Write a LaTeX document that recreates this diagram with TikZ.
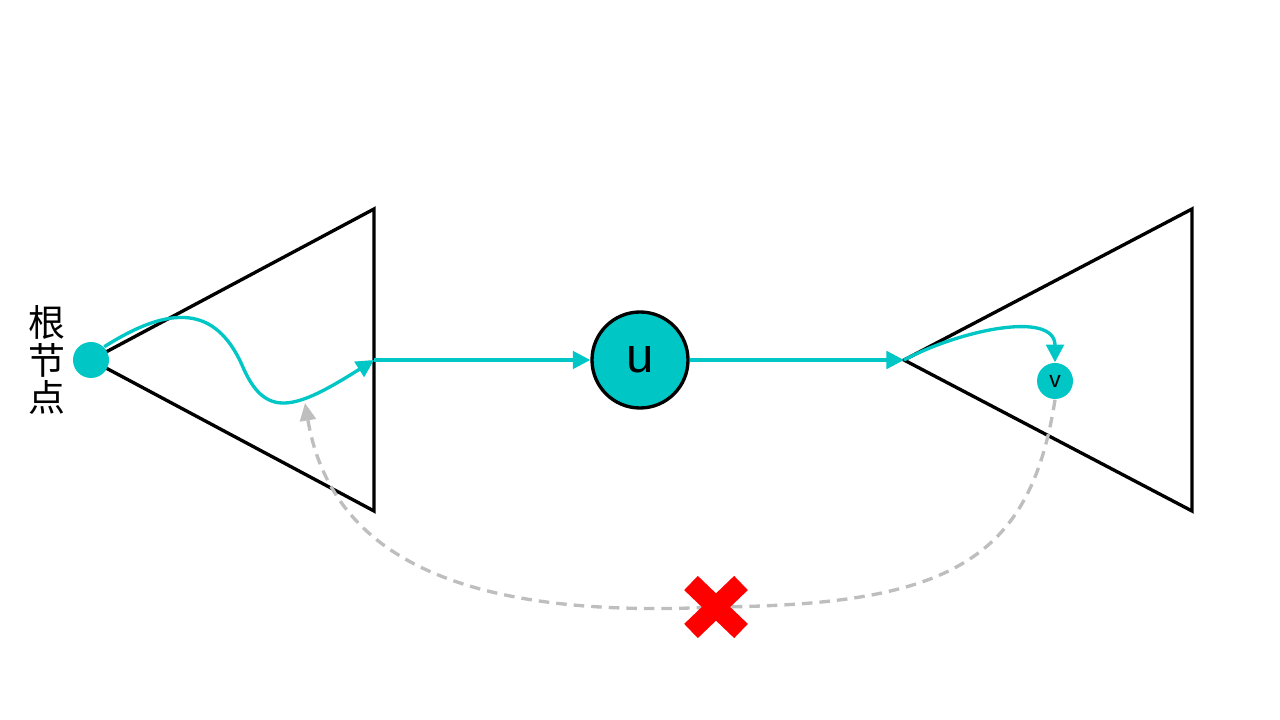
\documentclass[tikz,border=0pt]{standalone}
\usepackage{fontspec}
\setmainfont{Liberation Sans}
\newfontfamily\cjk{Noto Sans CJK SC}
\usetikzlibrary{calc,arrows.meta,positioning}
\definecolor{tealc}{RGB}{0,198,198}
\definecolor{grayc}{RGB}{190,190,190}
\tikzset{tri/.style={draw=black,line width=0.95pt,line join=miter},
         vertex/.style={circle,fill=tealc,inner sep=0pt},
         flow/.style={draw=tealc,line width=0.95pt,-{Triangle[length=5pt,width=5pt]}},
         back/.style={draw=grayc,line width=0.95pt,dashed,dash pattern=on 3pt off 2pt,-{Triangle[length=5pt,width=4.5pt]}}}
\begin{document}
\begin{tikzpicture}[y=-1cm]
\useasboundingbox (0,0) rectangle (12.8,7.2);
% coordinates
%left tree
\coordinate (L1) at (0.91,3.60);
\coordinate (L2) at (3.74,2.09);
\coordinate (L3) at (3.74,5.11);
\coordinate (L4) at (3.74,3.60);
%right tree
\coordinate (R1) at (9.04,3.60);
\coordinate (R2) at (11.92,2.09);
\coordinate (R3) at (11.92,5.11);
%cross
\coordinate (X) at (7.16,6.07);

%trees
\draw[tri] (L1) -- (L2) -- (L3) -- cycle;
\draw[tri] (R1) -- (R2) -- (R3) -- cycle;

%nodes
\node[vertex,minimum size=0.36cm] (root) at (L1) {};
\node[left=0.1cm of root,xshift=0.04cm,inner sep=0pt,font=\cjk\fontsize{10.5}{10.7}\selectfont,align=center] (label) {根\\节\\点};
\node[vertex,draw=black,line width=0.95pt,minimum size=0.96cm,font=\fontsize{14}{16}\selectfont] (u) at (6.40,3.60) {u};
\node[vertex,minimum size=0.36cm,font=\fontsize{6.5}{8}\selectfont] (v) at (10.55,3.81) {v};

%paths
\draw[flow] (root.north east) .. controls (1.7,3.05) and (2.15,3.05) .. (2.42,3.65)
  .. controls (2.65,4.2) and (2.95,4.1) .. (L4);
\draw[flow] (L4) -- (u);
\draw[flow] (u) -- (R1);
\draw[flow] (R1) .. controls (9.6,3.3) and (10.55,3.1) .. (v.north);
\draw[back] (v.south) .. controls (10.3,5.6) and (9.5,6.05) .. (X)
  .. controls (4.5,6.2) and (3.3,5.5) .. (3.05,4.03);

%red cross
\draw[red,line width=5.6pt] ($(X)+(-0.25,-0.24)$) -- ($(X)+(0.25,0.24)$);
\draw[red,line width=5.6pt] ($(X)+(-0.25,0.24)$) -- ($(X)+(0.25,-0.24)$);
\end{tikzpicture}
\end{document}
